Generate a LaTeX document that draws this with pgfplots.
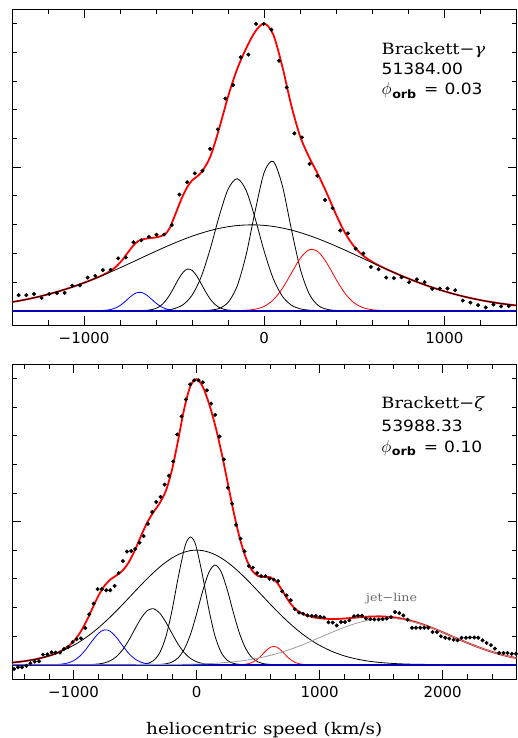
\documentclass[border=0pt]{standalone}
\usepackage{fontspec}
\usepackage{pgfplots}
\pgfplotsset{compat=1.18}
\newfontfamily\serifw[FakeStretch=1.15]{DejaVu Serif}
\newfontfamily\sansnum{DejaVu Sans}
\newfontfamily\sansw[FakeStretch=1.1]{DejaVu Sans}
\definecolor{baseblue}{rgb}{0,0,0.72}
\definecolor{jetgray}{gray}{0.62}
\definecolor{jettext}{gray}{0.42}
\pgfplotsset{
 panel/.style={
  scale only axis, width=504.5pt,
  ymin=-0.05, ymax=1.05,
  ytick={0.5}, minor ytick={0,0.1,0.2,0.3,0.4,0.6,0.7,0.8,0.9,1.0},
  yticklabels={},
  tick align=inside, tick pos=both,
  major tick length=9pt, minor tick length=5pt,
  every tick/.append style={black, line width=0.6pt},
  axis line style={line width=0.8pt},
  xticklabel style={font=\sansnum\fontsize{15}{15}\selectfont, yshift=-4pt},
 },
 comp/.style={black, line width=0.8pt, smooth, no markers},
 fit/.style={red, line width=1.8pt, smooth, no markers},
 dots/.style={only marks, mark=*, mark size=1.8pt, black},
}
\newcommand{\annA}{\serifw\fontsize{15.5}{15.5}\selectfont}
\newcommand{\annN}{\sansw\fontsize{15.5}{15.5}\selectfont}
\newcommand{\phirow}[1]{{\fontsize{17}{17}\selectfont$\phi$}\hspace{0.5pt}\raisebox{-3.5pt}{\sansw\bfseries\fontsize{11.5}{11.5}\selectfont orb}\hspace{8pt}{\annN =}\hspace{6pt}{\annN #1}}
\begin{document}
\begin{tikzpicture}
\useasboundingbox (0,0) rectangle (517pt,738pt);
% ---------------- top panel ----------------
\begin{axis}[panel, height=316pt, at={(12pt,413pt)}, anchor=south west,
  xmin=-1400, xmax=1400, xtick={-1000,0,1000}, xticklabels={−1000,0,1000},
  minor xtick={-1200,-800,-600,-400,-200,200,400,600,800,1200}]
% fit
\addplot[fit] coordinates {(-1400,0.0299)(-1350,0.0354)(-1300,0.0417)(-1250,0.0488)(-1200,0.0567)(-1150,0.0655)(-1100,0.0751)(-1050,0.0856)(-1000,0.0970)(-950,0.1092)(-900,0.1225)(-850,0.1396)(-825,0.1518)(-800,0.1674)(-775,0.1868)(-750,0.2081)(-725,0.2278)(-700,0.2420)(-675,0.2480)(-650,0.2510)(-625,0.2530)(-600,0.2550)(-575,0.2590)(-550,0.2660)(-525,0.2870)(-500,0.3249)(-475,0.3647)(-450,0.4024)(-425,0.4327)(-400,0.4533)(-350,0.4810)(-300,0.5351)(-250,0.6340)(-200,0.7471)(-150,0.8414)(-100,0.9134)(-50,0.9715)(0,0.9994)(50,0.9611)(100,0.8507)(150,0.7146)(200,0.6053)(250,0.5329)(300,0.4724)(350,0.4046)(400,0.3322)(450,0.2688)(500,0.2222)(550,0.1910)(600,0.1696)(650,0.1529)(700,0.1383)(750,0.1245)(800,0.1116)(850,0.0993)(900,0.0878)(950,0.0772)(1000,0.0674)(1050,0.0584)(1100,0.0503)(1150,0.0431)(1200,0.0366)(1250,0.0310)(1300,0.0260)(1350,0.0217)(1400,0.0180)};
% broad
\addplot[comp] coordinates {(-1400,0.0299)(-1350,0.0354)(-1300,0.0417)(-1250,0.0488)(-1200,0.0567)(-1150,0.0655)(-1100,0.0751)(-1050,0.0856)(-1000,0.0970)(-950,0.1091)(-900,0.1219)(-850,0.1353)(-800,0.1493)(-750,0.1636)(-700,0.1782)(-650,0.1928)(-600,0.2072)(-550,0.2213)(-500,0.2348)(-450,0.2475)(-400,0.2592)(-350,0.2696)(-300,0.2787)(-250,0.2863)(-200,0.2921)(-150,0.2961)(-100,0.2982)(-50,0.2985)(0,0.2967)(50,0.2931)(100,0.2876)(150,0.2804)(200,0.2716)(250,0.2614)(300,0.2499)(350,0.2374)(400,0.2240)(450,0.2101)(500,0.1957)(550,0.1811)(600,0.1665)(650,0.1521)(700,0.1381)(750,0.1245)(800,0.1116)(850,0.0993)(900,0.0878)(950,0.0772)(1000,0.0674)(1050,0.0584)(1100,0.0503)(1150,0.0431)(1200,0.0366)(1250,0.0310)(1300,0.0260)(1350,0.0217)(1400,0.0180)};
% small black
\addplot[comp] coordinates {(-725,0)(-700,0.0001)(-675,0.0004)(-650,0.0013)(-625,0.0035)(-600,0.0081)(-575,0.0171)(-550,0.0323)(-525,0.0544)(-500,0.0821)(-475,0.1108)(-450,0.1338)(-425,0.1447)(-400,0.1399)(-375,0.1211)(-350,0.0938)(-325,0.0650)(-300,0.0403)(-275,0.0224)(-250,0.0111)(-225,0.0049)(-200,0.0020)(-175,0.0007)(-150,0.0002)(-125,0)};
% left tall black
\addplot[comp] coordinates {(-700,0)(-650,0.0001)(-600,0.0004)(-550,0.0019)(-500,0.0068)(-450,0.0210)(-400,0.0542)(-350,0.1176)(-300,0.2145)(-250,0.3288)(-200,0.4237)(-150,0.4589)(-100,0.4179)(-50,0.3198)(0,0.2058)(50,0.1113)(100,0.0506)(150,0.0193)(200,0.0062)(250,0.0017)(300,0.0004)(350,0)};
% right tall black
\addplot[comp] coordinates {(-400,0)(-350,0.0003)(-300,0.0016)(-250,0.0078)(-200,0.0293)(-150,0.0859)(-100,0.1959)(-50,0.3482)(0,0.4819)(50,0.5194)(100,0.4360)(150,0.2851)(200,0.1451)(250,0.0576)(300,0.0178)(350,0.0043)(400,0.0008)(450,0.0001)(500,0)};
% blue component
\addplot[blue, line width=0.8pt, smooth, no markers] coordinates {(-975,0)(-950,0.0000)(-925,0.0002)(-900,0.0006)(-875,0.0017)(-850,0.0043)(-825,0.0095)(-800,0.0181)(-775,0.0304)(-750,0.0445)(-725,0.0569)(-700,0.0636)(-675,0.0620)(-650,0.0529)(-625,0.0394)(-600,0.0256)(-575,0.0146)(-550,0.0072)(-525,0.0031)(-500,0.0012)(-475,0.0004)(-450,0.0001)(-425,0)};
% red component
\addplot[red, line width=0.8pt, smooth, no markers] coordinates {(-200,0)(-150,0.0003)(-100,0.0014)(-50,0.0050)(0,0.0150)(50,0.0373)(100,0.0765)(150,0.1298)(200,0.1824)(250,0.2122)(300,0.2043)(350,0.1629)(400,0.1074)(450,0.0587)(500,0.0265)(550,0.0099)(600,0.0031)(650,0.0008)(700,0.0002)(750,0)};
% baseline
\addplot[baseblue, line width=1.8pt, no markers] coordinates {(-1400,0)(1400,0)};
% data
\addplot[dots] coordinates {(-1363,0.054)(-1320.5,0.054)(-1278,0.058)(-1235.5,0.044)(-1193,0.058)(-1150.5,0.061)(-1108,0.062)(-1065.5,0.087)(-1023,0.088)(-980.5,0.115)(-938,0.121)(-895.5,0.141)(-853,0.142)(-810.5,0.182)(-768,0.185)(-725.5,0.238)(-683,0.245)(-640.5,0.257)(-598,0.264)(-555.5,0.265)(-513,0.298)(-470.5,0.404)(-428,0.447)(-385.5,0.478)(-343,0.487)(-300.5,0.563)(-258,0.631)(-215.5,0.738)(-173,0.785)(-130.5,0.882)(-88,0.891)(-45.5,0.998)(-3,0.998)(39.5,0.978)(82,0.870)(124.5,0.777)(167,0.617)(209.5,0.603)(252,0.511)(294.5,0.469)(337,0.385)(379.5,0.357)(422,0.279)(464.5,0.269)(507,0.216)(549.5,0.199)(592,0.152)(634.5,0.144)(677,0.115)(719.5,0.113)(762,0.116)(804.5,0.099)(847,0.109)(889.5,0.099)(932,0.076)(974.5,0.077)(1017,0.077)(1059.5,0.071)(1102,0.035)(1144.5,0.028)(1187,0.019)(1229.5,0.011)(1272,0.021)(1314.5,0.015)(1357,0.016)};
\node[anchor=base west, inner sep=0pt] at (axis cs:651,0.891) {\annA Brackett−{\itshape γ}};
\node[anchor=base west, inner sep=0pt] at (axis cs:651,0.821) {\annN 51384.00};
\node[anchor=base west, inner sep=0pt] at (axis cs:651,0.752) {\phirow{0.03}};
\end{axis}
% ---------------- bottom panel ----------------
\begin{axis}[panel, height=315pt, at={(12pt,59pt)}, anchor=south west,
  xmin=-1500, xmax=2600, xtick={-1000,0,1000,2000}, xticklabels={−1000,0,1000,2000},
  minor xtick={-1400,-1200,-800,-600,-400,-200,200,400,600,800,1200,1400,1600,1800,2200,2400},
  xlabel={\serifw\fontsize{16}{16}\selectfont heliocentric speed (km/s)},
  xlabel style={at={(axis description cs:0.5,0)}, anchor=base, yshift=-55pt}]
% fit
\addplot[fit] coordinates {(-1500,0.0073)(-1450,0.0095)(-1400,0.0122)(-1350,0.0156)(-1300,0.0198)(-1250,0.0248)(-1200,0.0308)(-1150,0.0380)(-1100,0.0483)(-1050,0.0617)(-1000,0.0813)(-950,0.1096)(-900,0.1478)(-850,0.1936)(-800,0.2387)(-750,0.2746)(-700,0.2974)(-650,0.3120)(-600,0.3290)(-550,0.3584)(-500,0.4012)(-450,0.4512)(-400,0.4974)(-350,0.5330)(-300,0.5640)(-250,0.6069)(-200,0.6800)(-150,0.7840)(-100,0.8944)(-50,0.9731)(0,0.9971)(50,0.9707)(100,0.9132)(150,0.8376)(200,0.7457)(250,0.6415)(300,0.5357)(350,0.4433)(400,0.3737)(450,0.3297)(500,0.3096)(550,0.3064)(600,0.3050)(650,0.2886)(700,0.2563)(750,0.2214)(800,0.1956)(850,0.1802)(900,0.1714)(950,0.1656)(1000,0.1621)(1100,0.1594)(1200,0.1611)(1300,0.1647)(1400,0.1678)(1500,0.1686)(1600,0.1655)(1700,0.1579)(1800,0.1462)(1900,0.1309)(2000,0.1133)(2100,0.0946)(2200,0.0764)(2300,0.0595)(2400,0.0448)(2500,0.0325)(2600,0.0228)};
% broad
\addplot[comp] coordinates {(-1500,0.0073)(-1400,0.0122)(-1300,0.0198)(-1200,0.0308)(-1100,0.0464)(-1000,0.0675)(-950,0.0802)(-900,0.0946)(-850,0.1105)(-800,0.1280)(-750,0.1470)(-700,0.1672)(-650,0.1886)(-600,0.2107)(-550,0.2335)(-500,0.2563)(-450,0.2789)(-400,0.3009)(-350,0.3216)(-300,0.3408)(-250,0.3579)(-200,0.3725)(-150,0.3843)(-100,0.3929)(-50,0.3982)(0,0.4000)(50,0.3982)(100,0.3929)(150,0.3843)(200,0.3725)(250,0.3579)(300,0.3408)(350,0.3216)(400,0.3009)(450,0.2789)(500,0.2563)(550,0.2335)(600,0.2107)(650,0.1886)(700,0.1672)(750,0.1470)(800,0.1280)(850,0.1105)(900,0.0946)(950,0.0802)(1000,0.0675)(1100,0.0464)(1200,0.0308)(1300,0.0198)(1400,0.0122)(1500,0.0073)(1600,0.0042)(1700,0.0023)(1800,0.0013)(2000,0.0003)(2200,0)};
% black 1
\addplot[comp] coordinates {(-950,0)(-900,0.0003)(-850,0.0008)(-800,0.0024)(-750,0.0061)(-700,0.0140)(-650,0.0287)(-600,0.0526)(-550,0.0860)(-500,0.1253)(-450,0.1629)(-400,0.1890)(-350,0.1956)(-300,0.1805)(-250,0.1487)(-200,0.1093)(-150,0.0716)(-100,0.0419)(-50,0.0219)(0,0.0102)(50,0.0042)(100,0.0016)(150,0.0005)(200,0.0001)(250,0)};
% black 2
\addplot[comp] coordinates {(-550,0)(-500,0.0002)(-450,0.0010)(-400,0.0042)(-350,0.0145)(-300,0.0412)(-250,0.0968)(-200,0.1884)(-150,0.3033)(-100,0.4043)(-75,0.4348)(-50,0.4460)(-25,0.4364)(0,0.4073)(50,0.3079)(100,0.1927)(150,0.0998)(200,0.0428)(250,0.0152)(300,0.0045)(350,0.0011)(400,0.0002)(450,0)};
% black 3
\addplot[comp] coordinates {(-400,0)(-350,0.0002)(-300,0.0008)(-250,0.0030)(-200,0.0091)(-150,0.0238)(-100,0.0540)(-50,0.1053)(0,0.1773)(50,0.2574)(100,0.3222)(150,0.3480)(200,0.3241)(250,0.2604)(300,0.1804)(350,0.1078)(400,0.0556)(450,0.0247)(500,0.0095)(550,0.0031)(600,0.0009)(650,0.0002)(700,0)};
% blue component
\addplot[blue, line width=0.8pt, smooth, no markers] coordinates {(-1200,0)(-1150,0.0005)(-1100,0.0019)(-1050,0.0055)(-1000,0.0138)(-950,0.0294)(-900,0.0532)(-850,0.0823)(-800,0.1083)(-775,0.1170)(-750,0.1215)(-725,0.1212)(-700,0.1162)(-650,0.0947)(-600,0.0657)(-550,0.0389)(-500,0.0196)(-450,0.0084)(-400,0.0031)(-350,0.0010)(-300,0.0003)(-250,0)};
% red component
\addplot[red, line width=0.8pt, smooth, no markers] coordinates {(300,0)(350,0.0003)(400,0.0018)(450,0.0073)(500,0.0210)(550,0.0425)(575,0.0531)(600,0.0609)(625,0.0640)(650,0.0617)(675,0.0546)(700,0.0443)(750,0.0225)(800,0.0081)(850,0.0020)(900,0.0004)(950,0)};
% baseline
\addplot[baseblue, line width=1.8pt, no markers] coordinates {(-1500,0)(2600,0)};
% jet line
\addplot[jetgray, line width=0.8pt, smooth, no markers] coordinates {(-1500,0)(-600,0)(-500,0.0001)(-400,0.0002)(-300,0.0004)(-200,0.0007)(-100,0.0013)(0,0.0023)(100,0.0038)(200,0.0063)(300,0.0100)(400,0.0154)(500,0.0228)(600,0.0325)(700,0.0448)(800,0.0595)(900,0.0764)(1000,0.0946)(1100,0.1130)(1200,0.1303)(1300,0.1449)(1400,0.1556)(1500,0.1613)(1550,0.1620)(1600,0.1613)(1700,0.1556)(1800,0.1449)(1900,0.1303)(2000,0.1130)(2100,0.0946)(2200,0.0764)(2300,0.0595)(2400,0.0448)(2500,0.0325)(2600,0.0228)};
% data
\addplot[dots] coordinates {(-1483.5,-0.015)(-1451,-0.009)(-1418.6,-0.009)(-1383.4,-0.004)(-1350.9,0.005)(-1315.7,0.011)(-1280.5,0.012)(-1248.1,0.035)(-1212.9,0.036)(-1177.7,0.043)(-1145.2,0.042)(-1110,0.042)(-1077.6,0.055)(-1042.4,0.062)(-1007.2,0.079)(-974.7,0.089)(-939.6,0.092)(-904.4,0.128)(-871.9,0.176)(-836.7,0.213)(-804.2,0.264)(-769.1,0.264)(-733.9,0.260)(-701.4,0.260)(-666.2,0.275)(-633.8,0.320)(-598.6,0.362)(-566.1,0.395)(-530.9,0.397)(-498.4,0.404)(-463.3,0.426)(-430.8,0.449)(-395.6,0.492)(-360.4,0.533)(-327.9,0.568)(-292.7,0.586)(-260.3,0.629)(-225.1,0.660)(-189.9,0.710)(-157.4,0.804)(-122.2,0.867)(-87.1,0.926)(-51.9,0.979)(-19.4,0.993)(15.8,0.993)(50.9,0.986)(83.4,0.958)(118.6,0.912)(151.1,0.872)(186.3,0.797)(221.4,0.717)(253.9,0.618)(289.1,0.562)(321.6,0.488)(356.7,0.440)(389.2,0.396)(424.4,0.345)(456.9,0.339)(492,0.320)(524.6,0.309)(559.7,0.309)(592.2,0.300)(627.4,0.297)(662.6,0.292)(695,0.256)(730.2,0.242)(765.4,0.225)(797.9,0.194)(833.1,0.182)(865.5,0.178)(900.7,0.172)(935.9,0.170)(968.4,0.170)(1003.6,0.167)(1036,0.165)(1071.2,0.148)(1106.4,0.147)(1138.9,0.137)(1174.1,0.149)(1206.5,0.149)(1241.7,0.155)(1279.6,0.169)(1312,0.171)(1344.5,0.171)(1377,0.161)(1412,0.159)(1444.7,0.158)(1479.8,0.158)(1512.3,0.159)(1544.8,0.161)(1580,0.166)(1612.5,0.184)(1647.6,0.180)(1680,0.172)(1715,0.157)(1750.5,0.129)(1783,0.129)(1818,0.129)(1850.6,0.129)(1883,0.129)(1918,0.114)(1953,0.114)(1986,0.099)(2021,0.094)(2053.6,0.091)(2088.8,0.087)(2121,0.085)(2153.7,0.094)(2189,0.094)(2221.4,0.095)(2256.6,0.095)(2289,0.094)(2324,0.085)(2356.7,0.076)(2392,0.068)(2424,0.056)(2459.5,0.041)(2494.7,0.041)(2527,0.041)(2562,0.038)(2595,0.038)};
\node[anchor=base west, inner sep=0pt] at (axis cs:1501,0.893) {\annA Brackett−{\itshape ζ}};
\node[anchor=base west, inner sep=0pt] at (axis cs:1501,0.815) {\annN 53988.33};
\node[anchor=base west, inner sep=0pt] at (axis cs:1501,0.742) {\phirow{0.10}};
\node[anchor=base west, inner sep=0pt, text=jettext] at (axis cs:1377,0.222) {\serifw\fontsize{11}{11}\selectfont jet−line};
\end{axis}
\end{tikzpicture}
\end{document}
